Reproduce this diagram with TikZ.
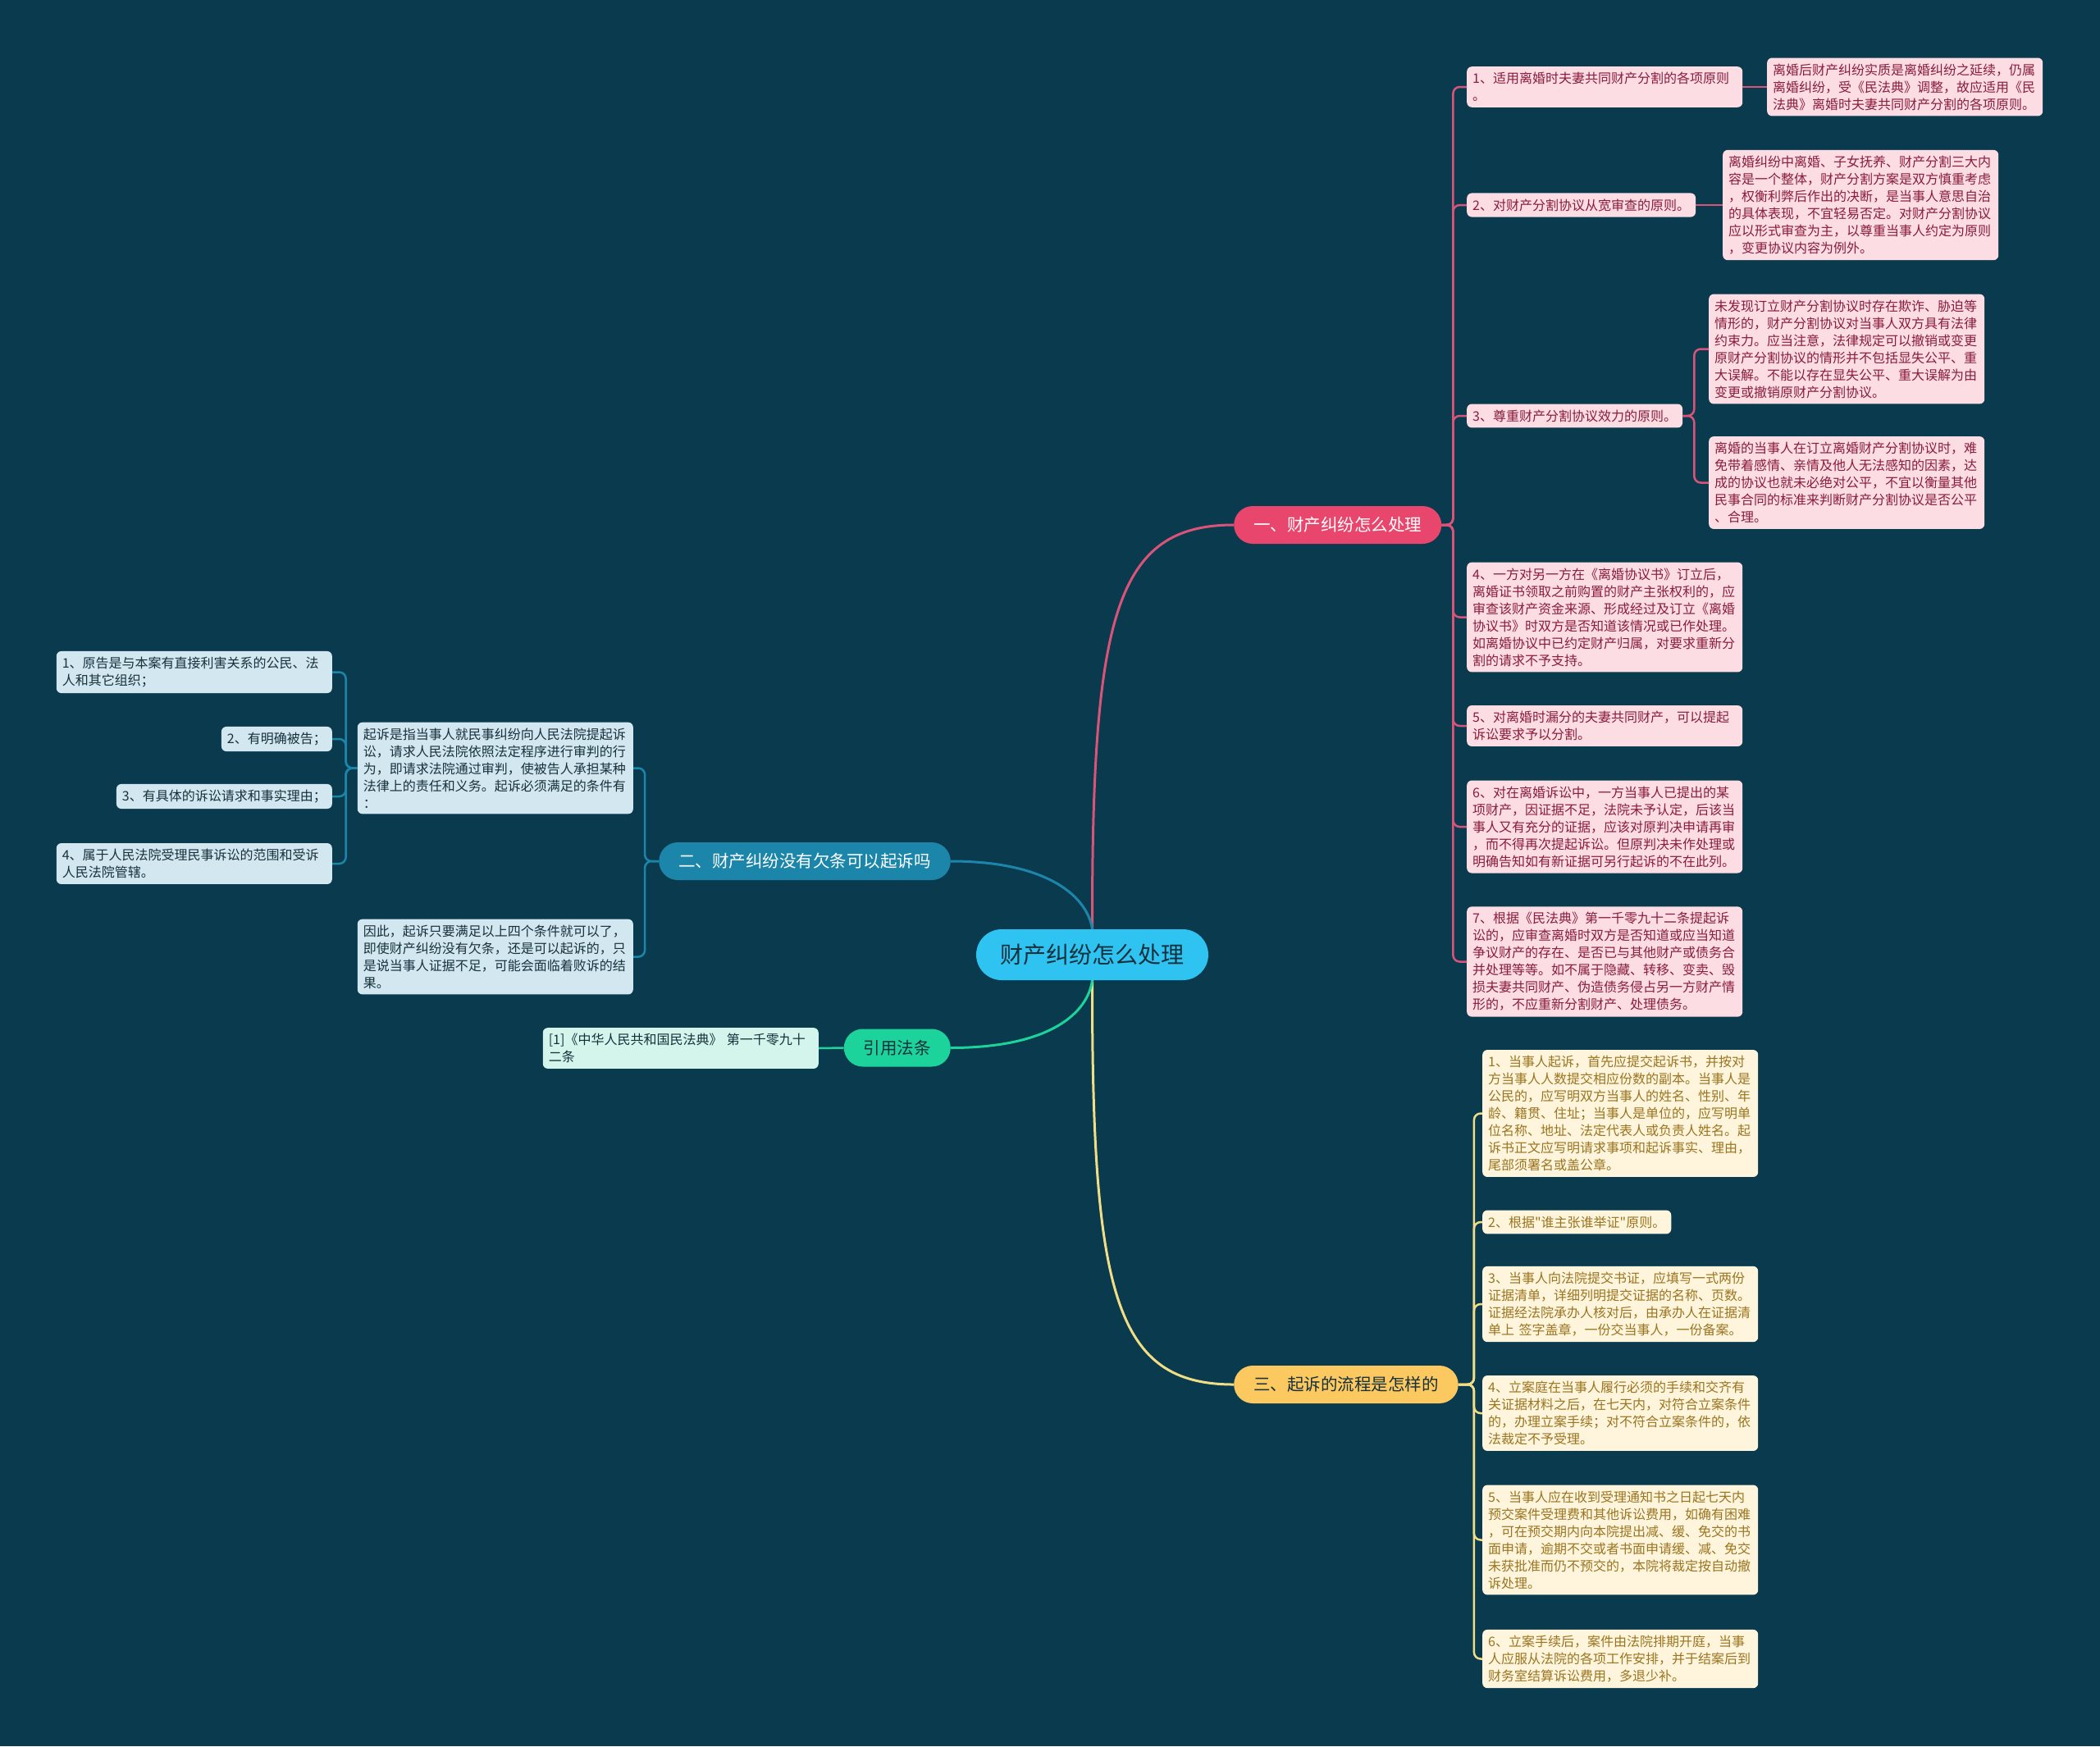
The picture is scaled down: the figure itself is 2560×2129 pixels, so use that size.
\documentclass[tikz,border=0pt]{standalone}
\usepackage{fontspec}
\newfontfamily\cjk{Noto Sans CJK SC}

\definecolor{bgteal}{HTML}{0A3A4E}
\definecolor{rootfill}{HTML}{2EC3F0}
\definecolor{rosefill}{HTML}{E9466D}
\definecolor{roseline}{HTML}{DA5479}
\definecolor{roseleaf}{HTML}{FCDDE4}
\definecolor{rosetext}{HTML}{8A1C3C}
\definecolor{seafill}{HTML}{1B86AA}
\definecolor{sealeaf}{HTML}{D2E7F0}
\definecolor{seatext}{HTML}{17313D}
\definecolor{mintfill}{HTML}{1CD39B}
\definecolor{mintleaf}{HTML}{D3F5EC}
\definecolor{sunfill}{HTML}{FBC95F}
\definecolor{sunline}{HTML}{F1DD86}
\definecolor{sunleaf}{HTML}{FEF5DC}
\definecolor{suntext}{HTML}{9A7420}
\definecolor{darkink}{HTML}{17303C}

\tikzset{
  leaf/.style={rounded corners=6pt, inner xsep=7pt, inner ysep=7pt, align=left,
    font=\cjk\fontsize{16}{21}\selectfont},
  wide/.style={text width=322pt},
  roseleafbox/.style={leaf, fill=roseleaf, text=rosetext},
  sealeafbox/.style={leaf, fill=sealeaf, text=seatext},
  sunleafbox/.style={leaf, fill=sunleaf, text=suntext},
  mintleafbox/.style={leaf, fill=mintleaf, text=darkink},
  topic/.style={rounded corners=23pt, minimum height=46pt, inner xsep=24pt,
    font=\cjk\fontsize{20.5}{24}\selectfont},
  link/.style={line width=2.5pt, rounded corners=8pt},
  mainlink/.style={line width=3pt},
}

\begin{document}
\begin{tikzpicture}[x=1pt,y=-1pt]
\useasboundingbox (0,0) rectangle (2560,2129);
\fill[bgteal] (0,0) rectangle (2560,2129);

% centre
\node[rounded corners=31pt, minimum height=62pt, minimum width=283pt, fill=rootfill, text=darkink,
  font=\cjk\fontsize{28}{32}\selectfont] (root) at (1331.5,1164) {财产纠纷怎么处理};

% main topics
\node[topic, fill=rosefill, text=white, anchor=west] (rose) at (1504,640) {一、财产纠纷怎么处理};
\node[topic, fill=seafill, text=white, anchor=east] (sea) at (1159,1050) {二、财产纠纷没有欠条可以起诉吗};
\node[topic, fill=mintfill, text=darkink, anchor=east] (mint) at (1159,1277.5) {引用法条};
\node[topic, fill=sunfill, text=darkink, anchor=west] (sun) at (1504,1688) {三、起诉的流程是怎样的};

\draw[mainlink, roseline] (root.north) .. controls (1331,750) and (1360,640) .. (rose.west);
\draw[mainlink, sunline] (root.south) .. controls (1331,1580) and (1360,1688) .. (sun.west);
\draw[mainlink, seafill] (root.north) .. controls (1326,1095) and (1280,1050) .. (sea.east);
\draw[mainlink, mintfill] (root.south) .. controls (1326,1235) and (1280,1277.5) .. (mint.east);

% branch one
\node[roseleafbox, wide, anchor=west] (r1) at (1788,106) {1、适用离婚时夫妻共同财产分割的各项原则\\。};
\node[roseleafbox, wide, anchor=west] (r1a) at (2154,106) {离婚后财产纠纷实质是离婚纠纷之延续，仍属\\离婚纠纷，受《民法典》调整，故应适用《民\\法典》离婚时夫妻共同财产分割的各项原则。};
\node[roseleafbox, anchor=west] (r2) at (1788,250) {2、对财产分割协议从宽审查的原则。};
\node[roseleafbox, wide, anchor=west] (r2a) at (2100,250) {离婚纠纷中离婚、子女抚养、财产分割三大内\\容是一个整体，财产分割方案是双方慎重考虑\\，权衡利弊后作出的决断，是当事人意思自治\\的具体表现，不宜轻易否定。对财产分割协议\\应以形式审查为主，以尊重当事人约定为原则\\，变更协议内容为例外。};
\node[roseleafbox, anchor=west] (r3) at (1788,507) {3、尊重财产分割协议效力的原则。};
\node[roseleafbox, wide, anchor=west] (r3a) at (2083,425.5) {未发现订立财产分割协议时存在欺诈、胁迫等\\情形的，财产分割协议对当事人双方具有法律\\约束力。应当注意，法律规定可以撤销或变更\\原财产分割协议的情形并不包括显失公平、重\\大误解。不能以存在显失公平、重大误解为由\\变更或撤销原财产分割协议。};
\node[roseleafbox, wide, anchor=west] (r3b) at (2083,588.5) {离婚的当事人在订立离婚财产分割协议时，难\\免带着感情、亲情及他人无法感知的因素，达\\成的协议也就未必绝对公平，不宜以衡量其他\\民事合同的标准来判断财产分割协议是否公平\\、合理。};
\node[roseleafbox, wide, anchor=west] (r4) at (1788,752.5) {4、一方对另一方在《离婚协议书》订立后，\\离婚证书领取之前购置的财产主张权利的，应\\审查该财产资金来源、形成经过及订立《离婚\\协议书》时双方是否知道该情况或已作处理。\\如离婚协议中已约定财产归属，对要求重新分\\割的请求不予支持。};
\node[roseleafbox, wide, anchor=west] (r5) at (1788,885) {5、对离婚时漏分的夫妻共同财产，可以提起\\诉讼要求予以分割。};
\node[roseleafbox, wide, anchor=west] (r6) at (1788,1008) {6、对在离婚诉讼中，一方当事人已提出的某\\项财产，因证据不足，法院未予认定，后该当\\事人又有充分的证据，应该对原判决申请再审\\，而不得再次提起诉讼。但原判决未作处理或\\明确告知如有新证据可另行起诉的不在此列。};
\node[roseleafbox, wide, anchor=west] (r7) at (1788,1172.5) {7、根据《民法典》第一千零九十二条提起诉\\讼的，应审查离婚时双方是否知道或应当知道\\争议财产的存在、是否已与其他财产或债务合\\并处理等等。如不属于隐藏、转移、变卖、毁\\损夫妻共同财产、伪造债务侵占另一方财产情\\形的，不应重新分割财产、处理债务。};

\foreach \n in {r1,r2,r3,r4,r5,r6,r7}
  \draw[link, roseline] (rose.east) -- ++(14,0) |- (\n.west);
\draw[link, roseline] (r1.east) -- (r1a.west);
\draw[link, roseline] (r2.east) -- (r2a.west);
\foreach \n in {r3a,r3b}
  \draw[link, roseline] (r3.east) -- ++(14,0) |- (\n.west);

% branch two
\node[sealeafbox, wide, anchor=east] (s1) at (772,936.5) {起诉是指当事人就民事纠纷向人民法院提起诉\\讼，请求人民法院依照法定程序进行审判的行\\为，即请求法院通过审判，使被告人承担某种\\法律上的责任和义务。起诉必须满足的条件有\\：};
\node[sealeafbox, wide, anchor=east] (s2) at (772,1166.5) {因此，起诉只要满足以上四个条件就可以了，\\即使财产纠纷没有欠条，还是可以起诉的，只\\是说当事人证据不足，可能会面临着败诉的结\\果。};
\node[sealeafbox, wide, anchor=east] (c1) at (405,819.5) {1、原告是与本案有直接利害关系的公民、法\\人和其它组织；};
\node[sealeafbox, anchor=east] (c2) at (405,901) {2、有明确被告；};
\node[sealeafbox, anchor=east] (c3) at (405,971) {3、有具体的诉讼请求和事实理由；};
\node[sealeafbox, wide, anchor=east] (c4) at (405,1053) {4、属于人民法院受理民事诉讼的范围和受诉\\人民法院管辖。};

\foreach \n in {s1,s2}
  \draw[link, seafill] (sea.west) -- ++(-17,0) |- (\n.east);
\foreach \n in {c1,c2,c3,c4}
  \draw[link, seafill] (s1.west) -- ++(-14,0) |- (\n.east);

% cited law
\node[mintleafbox, wide, anchor=east] (m1) at (998,1278) {[1]《中华人民共和国民法典》 第一千零九十\\二条};
\draw[link, mintfill] (mint.west) -- (m1.east);

% branch three
\node[sunleafbox, wide, anchor=west] (u1) at (1807,1357.5) {1、当事人起诉，首先应提交起诉书，并按对\\方当事人人数提交相应份数的副本。当事人是\\公民的，应写明双方当事人的姓名、性别、年\\龄、籍贯、住址；当事人是单位的，应写明单\\位名称、地址、法定代表人或负责人姓名。起\\诉书正文应写明请求事项和起诉事实、理由，\\尾部须署名或盖公章。};
\node[sunleafbox, anchor=west] (u2) at (1807,1490) {2、根据"谁主张谁举证"原则。};
\node[sunleafbox, wide, anchor=west] (u3) at (1807,1590) {3、当事人向法院提交书证，应填写一式两份\\证据清单，详细列明提交证据的名称、页数。\\证据经法院承办人核对后，由承办人在证据清\\单上 签字盖章，一份交当事人，一份备案。};
\node[sunleafbox, wide, anchor=west] (u4) at (1807,1723) {4、立案庭在当事人履行必须的手续和交齐有\\关证据材料之后，在七天内，对符合立案条件\\的，办理立案手续；对不符合立案条件的，依\\法裁定不予受理。};
\node[sunleafbox, wide, anchor=west] (u5) at (1807,1877.5) {5、当事人应在收到受理通知书之日起七天内\\预交案件受理费和其他诉讼费用，如确有困难\\，可在预交期内向本院提出减、缓、免交的书\\面申请，逾期不交或者书面申请缓、减、免交\\未获批准而仍不预交的，本院将裁定按自动撤\\诉处理。};
\node[sunleafbox, wide, anchor=west] (u6) at (1807,2022.5) {6、立案手续后，案件由法院排期开庭，当事\\人应服从法院的各项工作安排，并于结案后到\\财务室结算诉讼费用，多退少补。};

\foreach \n in {u1,u2,u3,u4,u5,u6}
  \draw[link, sunline] (sun.east) -- ++(19,0) |- (\n.west);

\end{tikzpicture}
\end{document}
